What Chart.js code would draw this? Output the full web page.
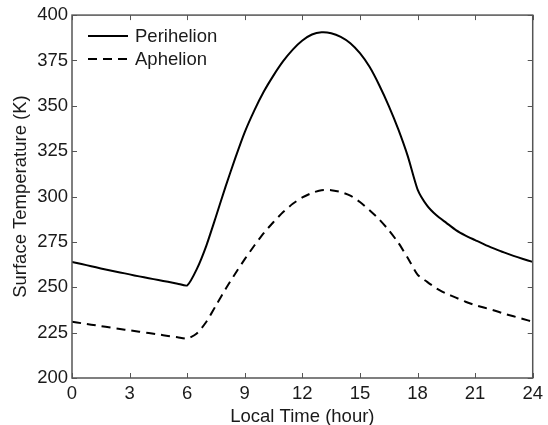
<!DOCTYPE html>
<html>
<head>
<meta charset="utf-8">
<script src="https://cdn.jsdelivr.net/npm/chart.js@4.4.1/dist/chart.umd.min.js"></script>
<style>
  html, body { margin: 0; padding: 0; background: #fff; }
  #wrap { width: 548px; height: 425px; }
</style>
</head>
<body>
<div id="wrap"><canvas id="myChart" width="548" height="425"></canvas></div>
<script>
// local time (hour), every half hour
var hours = [0, 0.5, 1, 1.5, 2, 2.5, 3, 3.5, 4, 4.5, 5, 5.5, 6, 6.5, 7, 7.5, 8, 8.5, 9, 9.5, 10, 10.5, 11, 11.5,
	12, 12.5, 13, 13.5, 14, 14.5, 15, 15.5, 16, 16.5, 17, 17.5, 18, 18.5, 19, 19.5, 20, 20.5, 21, 21.5, 22, 22.5, 23, 23.5, 24];
// surface temperature (K)
var perihelion = [264, 262.8, 261.6, 260.4, 259.3, 258.2, 257.1, 256, 255, 254, 253, 252, 251, 260, 273, 289, 305.5, 321, 335.5, 347.5,
	358, 366.8, 374.6, 381, 386, 389.3, 390.5, 390, 388, 384.5, 379, 371.5, 361.5, 350, 337, 322, 304, 295, 289.5, 285.5,
	281.5, 278.5, 276, 273.5, 271.3, 269.2, 267.3, 265.6, 264];
var aphelion = [231, 230.2, 229.4, 228.6, 227.8, 227, 226.3, 225.5, 224.8, 224, 223.2, 222.5, 221.7, 224.5, 231, 240, 249, 257.5, 265.5, 273,
	280, 286, 291.5, 296, 299.5, 302, 303.5, 303.5, 302.5, 300.5, 297, 292.5, 287.5, 281.5, 274.5, 266, 257, 253, 249.3, 246.5,
	244.3, 242, 240.2, 238.7, 237.2, 235.5, 234, 232.5, 231];
var xTicks = [0, 3, 6, 9, 12, 15, 18, 21, 24];
var yTicks = [200, 225, 250, 275, 300, 325, 350, 375, 400];

var fontFamily = "'Liberation Sans', Arial, sans-serif";
var textColor = '#1a1a1a';

function toPoints(ys) {
	return hours.map(function (h, i) { return { x: h, y: ys[i] }; });
}

// box, inward ticks and the legend, matlab style
var boxPlugin = {
	id: 'boxPlugin',
	afterDraw: function (chart) {
		var ctx = chart.ctx;
		var a = chart.chartArea;
		var xs = chart.scales.x, ys = chart.scales.y;
		var len = 5;
		ctx.save();
		ctx.strokeStyle = '#555';
		ctx.lineWidth = 1;
		ctx.beginPath();
		xTicks.forEach(function (t) {
			var px = Math.round(xs.getPixelForValue(t)) + 0.5;
			ctx.moveTo(px, a.bottom); ctx.lineTo(px, a.bottom - len);
			ctx.moveTo(px, a.top); ctx.lineTo(px, a.top + len);
		});
		yTicks.forEach(function (t) {
			var py = Math.round(ys.getPixelForValue(t)) + 0.5;
			ctx.moveTo(a.left, py); ctx.lineTo(a.left + len, py);
			ctx.moveTo(a.right, py); ctx.lineTo(a.right - len, py);
		});
		ctx.stroke();
		ctx.lineWidth = 1.5;
		ctx.strokeRect(a.left, a.top, a.right - a.left, a.bottom - a.top);

		// legend
		var lx = a.left + 16, ly = a.top + 21;
		chart.data.datasets.forEach(function (ds, i) {
			var y = ly + i * 23;
			ctx.strokeStyle = ds.borderColor;
			ctx.lineWidth = ds.borderWidth;
			ctx.setLineDash(ds.borderDash || []);
			ctx.beginPath();
			ctx.moveTo(lx, y); ctx.lineTo(lx + 40, y);
			ctx.stroke();
			ctx.setLineDash([]);
			ctx.fillStyle = textColor;
			ctx.font = '18.5px ' + fontFamily;
			ctx.textBaseline = 'middle';
			ctx.fillText(ds.label, lx + 47, y + 1);
		});
		ctx.restore();
	}
};

var ctx = document.getElementById('myChart').getContext('2d');
var chart = new Chart(ctx, {
	type: 'line',
	data: {
		datasets: [{
			label: 'Perihelion',
			data: toPoints(perihelion),
			borderColor: '#000',
			borderWidth: 2,
			pointRadius: 0,
			fill: false,
			tension: 0.2
		}, {
			label: 'Aphelion',
			data: toPoints(aphelion),
			borderColor: '#000',
			borderWidth: 2,
			borderDash: [9, 6],
			pointRadius: 0,
			fill: false,
			tension: 0.2
		}]
	},
	options: {
		responsive: false,
		animation: false,
		layout: { padding: { top: 13, right: 12, left: 0, bottom: 0 } },
		plugins: { legend: { display: false }, tooltip: { enabled: false } },
		scales: {
			x: {
				type: 'linear',
				min: 0, max: 24,
				afterBuildTicks: function (s) { s.ticks = xTicks.map(function (v) { return { value: v }; }); },
				afterFit: function (s) { s.height = 47; },
				grid: { drawOnChartArea: false, drawTicks: false },
				border: { display: false },
				ticks: { color: textColor, padding: 5, font: { size: 18.5, family: fontFamily } },
				title: { display: true, text: 'Local Time (hour)', color: textColor, padding: { top: 0, bottom: -3 }, font: { size: 18.5, family: fontFamily } }
			},
			y: {
				min: 200, max: 400,
				afterBuildTicks: function (s) { s.ticks = yTicks.map(function (v) { return { value: v }; }); },
				afterFit: function (s) { s.width = 72; },
				grid: { drawOnChartArea: false, drawTicks: false },
				border: { display: false },
				ticks: { color: textColor, padding: 4, font: { size: 18.5, family: fontFamily } },
				title: { display: true, text: 'Surface Temperature (K)', color: textColor, padding: { bottom: 0, top: 10 }, font: { size: 18.5, family: fontFamily } }
			}
		}
	},
	plugins: [boxPlugin]
});
</script>
</body>
</html>
